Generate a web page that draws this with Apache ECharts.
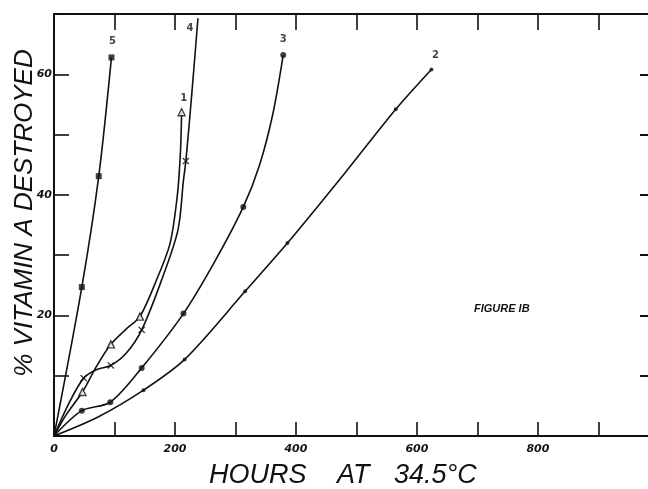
<!DOCTYPE html>
<html>
<head>
<meta charset="utf-8">
<script src="https://cdn.jsdelivr.net/npm/echarts@6/dist/echarts.min.js"></script>
<style>html,body{margin:0;padding:0;background:#fff;overflow:hidden}#c{width:648px;height:489px}</style>
</head>
<body>
<div id="c"></div>
<script>
// ---- data (hours, % destroyed) ----
const curveNames = ['1', '2', '3', '4', '5'];
// plotted measurement points (markers)
const curve1Points = [[0, 0], [47, 7.3], [94, 15.2], [142, 19.8], [211, 53.7]];
const curve2Points = [[0, 0], [148, 7.6], [216, 12.7], [316, 24.0], [386, 32.0], [565, 54.2], [624, 60.8]];
const curve3Points = [[0, 0], [46, 4.2], [93, 5.6], [145, 11.3], [214, 20.3], [313, 38.0], [379, 63.2]];
const curve4Points = [[0, 0], [49, 9.6], [94, 11.7], [145, 17.6], [218, 45.6]];
const curve5Points = [[0, 0], [46, 24.7], [74, 43.1], [95, 62.8]];
// drawn curve traces (include marker points)
const curve1Trace = [[0, 0], [20, 3.5], [47, 7.3], [70, 11.5], [94, 15.2], [120, 17.8], [142, 19.8], [170, 26.0], [192, 32.0], [204, 40.0], [209, 47.0], [211, 53.7]];
const curve2Trace = [[0, 0], [72, 3.1], [148, 7.6], [216, 12.7], [316, 24.0], [386, 32.0], [480, 43.5], [565, 54.2], [624, 60.8]];
const curve3Trace = [[0, 0], [46, 4.2], [93, 5.6], [145, 11.3], [214, 20.3], [265, 28.8], [313, 38.0], [340, 45.0], [362, 53.5], [379, 63.2]];
const curve4Trace = [[0, 0], [25, 5.5], [49, 9.6], [70, 11.0], [94, 11.7], [120, 13.8], [145, 17.6], [178, 25.9], [205, 34.2], [214, 42.4], [218, 45.6], [228, 57.0], [238, 69.3]];
const curve5Trace = [[0, 0], [46, 24.7], [74, 43.1], [95, 62.8]];
// curve-number labels placed at curve ends
const curveEnds = [[211, 53.7], [624, 60.8], [379, 63.2], [238, 69.3], [95, 62.8]];
// axis ticks
const xLabelValues = [0, 200, 400, 600, 800];
const yLabelValues = [20, 40, 60];

const ink = '#111';
const traces = [curve1Trace, curve2Trace, curve3Trace, curve4Trace, curve5Trace];
const points = [curve1Points, curve2Points, curve3Points, curve4Points, curve5Points];
const symbols = [
  'triangle',
  'circle',
  'circle',
  'path://M0,0 L1,0 L10,9 L10,10 L9,10 L0,1 Z M9,0 L10,0 L10,1 L1,10 L0,10 L0,9 Z',
  'rect'
];
const symbolSizes = [7, 4, 6, 6, 6];
const labelOffsets = [[2, -4], [4, -4], [0, -6], [-8, 20], [1, -6]];

const series = [];
traces.forEach((t, i) => {
  series.push({
    name: 'Curve ' + curveNames[i] + ' line',
    type: 'line',
    data: t,
    smooth: 0.3,
    symbol: 'none',
    lineStyle: { color: ink, width: 1.6 },
    silent: true,
    z: 2
  });
  series.push({
    name: 'Curve ' + curveNames[i],
    type: 'scatter',
    data: points[i].slice(1),
    symbol: symbols[i],
    symbolSize: symbolSizes[i],
    itemStyle: i === 0
      ? { color: '#fff', borderColor: ink, borderWidth: 1.4 }
      : { color: ink, borderColor: ink, borderWidth: i === 3 ? 0.6 : 0 },
    z: 3
  });
});
series.push({
  name: 'labels',
  type: 'scatter',
  symbolSize: 0,
  data: curveEnds.map((p, i) => ({
    value: p,
    label: {
      show: true,
      formatter: curveNames[i],
      position: 'top',
      offset: labelOffsets[i],
      color: ink,
      fontSize: 10,
      fontWeight: 'bold',
      fontFamily: 'DejaVu Sans'
    }
  })),
  z: 4
});

const axisLineStyle = { show: true, onZero: false, lineStyle: { color: ink, width: 2 } };
const labelStyle = { color: ink, fontSize: 11, fontStyle: 'italic', fontWeight: 'bold', fontFamily: 'DejaVu Sans' };

const option = {
  animation: false,
  backgroundColor: '#fff',
  grid: { left: 54, top: 14, width: 600, height: 422, containLabel: false, outerBoundsMode: 'none' },
  xAxis: [
    {
      type: 'value', position: 'bottom', min: 0, max: 992, interval: 100,
      axisLine: axisLineStyle,
      axisTick: { show: true, inside: true, length: 14, lineStyle: { color: ink, width: 1.6 } },
      axisLabel: Object.assign({ margin: 8, formatter: v => xLabelValues.includes(v) ? String(v) : '' }, labelStyle),
      splitLine: { show: false }
    },
    {
      type: 'value', position: 'top', min: 0, max: 992, interval: 100,
      axisLine: axisLineStyle,
      axisTick: { show: true, inside: true, length: 16, lineStyle: { color: ink, width: 1.6 } },
      axisLabel: { show: false },
      splitLine: { show: false }
    }
  ],
  yAxis: [
    {
      type: 'value', position: 'left', min: 0, max: 70, interval: 10,
      axisLine: axisLineStyle,
      axisTick: { show: true, inside: true, length: 15, lineStyle: { color: ink, width: 1.6 } },
      axisLabel: Object.assign({ margin: 2, formatter: v => yLabelValues.includes(v) ? String(v) : '' }, labelStyle),
      splitLine: { show: false }
    },
    {
      type: 'value', position: 'right', min: 0, max: 70, interval: 10,
      axisLine: axisLineStyle,
      axisTick: { show: true, inside: true, length: 14, lineStyle: { color: ink, width: 2 } },
      axisLabel: { show: false },
      splitLine: { show: false }
    }
  ],
  graphic: [
    { type: 'text', left: 209, top: 462, style: { text: 'HOURS', fill: ink, font: 'italic 27px "Liberation Sans"' } },
    { type: 'text', left: 337, top: 462, style: { text: 'AT', fill: ink, font: 'italic 27px "Liberation Sans"' } },
    { type: 'text', left: 394, top: 462, style: { text: '34.5°C', fill: ink, font: 'italic 27px "Liberation Sans"' } },
    {
      type: 'text', x: 25, y: 213, rotation: Math.PI / 2,
      style: { text: '% VITAMIN A DESTROYED', fill: ink, font: 'italic 26px "Liberation Sans"', align: 'center', verticalAlign: 'middle' }
    },
    { type: 'text', left: 474, top: 303, style: { text: 'FIGURE IB', fill: ink, font: 'italic bold 11px "Liberation Sans"' } }
  ],
  series: series
};

const chart = echarts.init(document.getElementById('c'), null, { renderer: 'canvas' });
chart.setOption(option);
</script>
</body>
</html>
